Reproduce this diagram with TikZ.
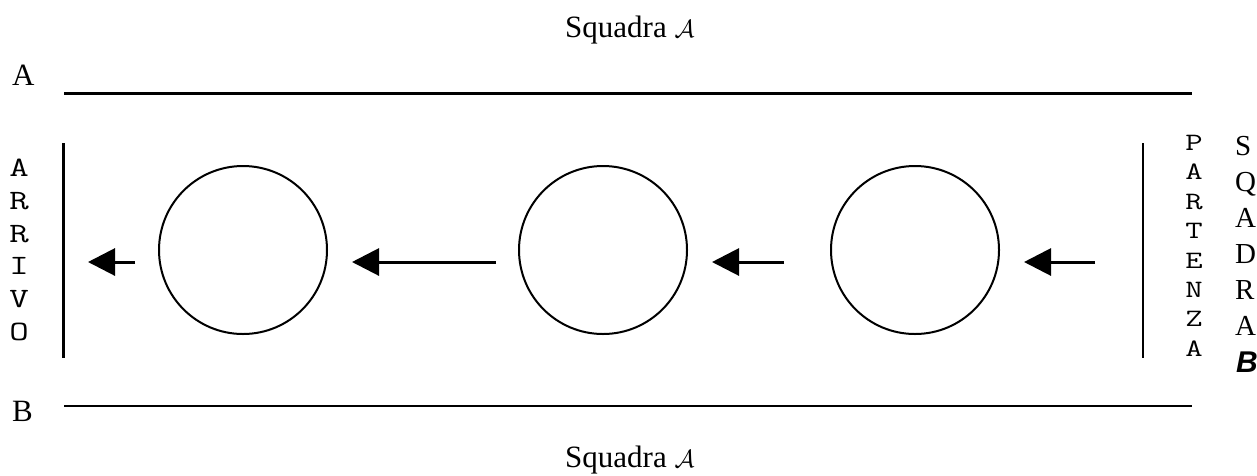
\documentclass[tikz,border=0pt]{standalone}
\usepackage{fontspec}
\usepackage{graphicx}
\setmainfont{Liberation Serif}
\newfontfamily\arialfont{Liberation Sans}
\usetikzlibrary{arrows.meta}
\newcommand{\widech}[1]{\scalebox{1.35}[1]{#1}}
\tikzset{
  lbl/.style={inner sep=0pt, font=\fontsize{31}{37}\selectfont},
  ttl/.style={inner sep=0pt, anchor=base west, font=\fontsize{31}{37}\selectfont},
  arrletter/.style={inner sep=0pt, anchor=base, font=\ttfamily\fontsize{28}{30}\selectfont},
  partletter/.style={inner sep=0pt, anchor=base, font=\ttfamily\fontsize{25}{28}\selectfont},
  sqletter/.style={inner sep=0pt, anchor=base west, font=\fontsize{29}{34}\selectfont},
  player/.style={circle, draw, line width=2pt, minimum size=168pt, inner sep=0pt},
  thickline/.style={line width=3pt},
  thinline/.style={line width=2pt},
  mover/.style={line width=3pt, -{Triangle[length=27pt,width=27pt]}},
}
\begin{document}
\begin{tikzpicture}[x=1pt,y=-1pt]
\useasboundingbox (0,0) rectangle (1257,475);
% titles
\node[ttl] (sqtop) at (565,37) {Squadra $\mathcal{A}$};
\node[ttl] (sqbot) at (565,467) {Squadra $\mathcal{A}$};
\node[lbl, anchor=base west] (labA) at (12,85) {A};
\node[lbl, anchor=base west] (labB) at (12,421) {B};
% side lines
\coordinate (tl) at (64,93);
\coordinate (tr) at (1192,93);
\coordinate (bl) at (64,406);
\coordinate (br) at (1192,406);
\draw[thickline] (tl) -- (tr);
\draw[thinline] (bl) -- (br);
% arrival and departure bars
\coordinate (arrT) at (63,143);
\coordinate (arrB) at (63,358);
\coordinate (parT) at (1143,143);
\coordinate (parB) at (1143,358);
\draw[thickline] (arrT) -- (arrB);
\draw[thinline] (parT) -- (parB);
% ARRIVO
\foreach \ch [count=\i from 0] in {A,R,R,I,V,O}
  \node[arrletter] (arr\i) at (19,176.5+32.8*\i) {\widech{\ch}};
% PARTENZA
\foreach \ch [count=\i from 0] in {P,A,R,T,E,N,Z,A}
  \node[partletter] (par\i) at (1194,150.5+29.4*\i) {\widech{\ch}};
% SQADRA B
\foreach \ch [count=\i from 0] in {S,Q,A,D,R,A}
  \node[sqletter] (sq\i) at (1235,155+36*\i) {\ch};
\node[inner sep=0pt, anchor=base west, font=\arialfont\bfseries\itshape\fontsize{30}{34}\selectfont] (sqB) at (1236,372) {B};
% players
\node[player] (c1) at (243,250) {};
\node[player] (c2) at (603,250) {};
\node[player] (c3) at (915,250) {};
% arrows
\coordinate (a1s) at (135,262); \coordinate (a1e) at (88,262);
\coordinate (a2s) at (496,262); \coordinate (a2e) at (352,262);
\coordinate (a3s) at (784,262); \coordinate (a3e) at (712,262);
\coordinate (a4s) at (1095,262); \coordinate (a4e) at (1024,262);
\draw[mover] (a1s) -- (a1e);
\draw[mover] (a2s) -- (a2e);
\draw[mover] (a3s) -- (a3e);
\draw[mover] (a4s) -- (a4e);
\end{tikzpicture}
\end{document}
